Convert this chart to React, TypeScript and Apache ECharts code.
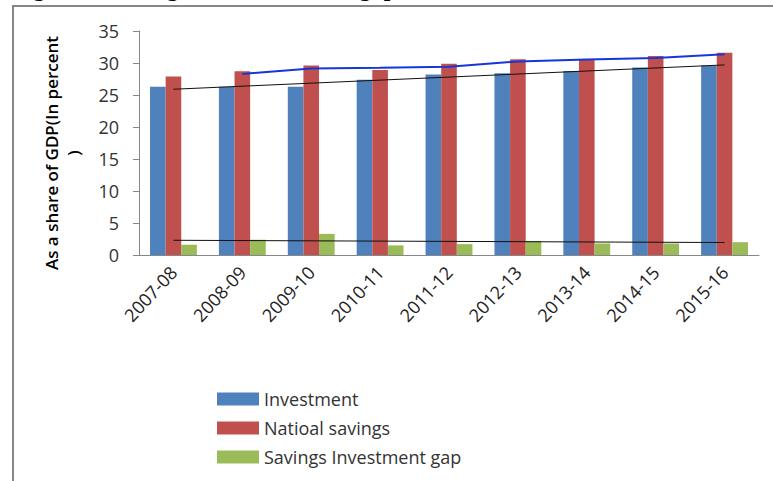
import React, { useEffect, useRef } from "react";
import * as echarts from "echarts";

// Fiscal years on the category axis
const years = [
  "2007-08", "2008-09", "2009-10", "2010-11", "2011-12",
  "2012-13", "2013-14", "2014-15", "2015-16",
];

// Shares of GDP, in percent
const investment = [26.3, 26.3, 26.3, 27.4, 28.2, 28.4, 28.75, 29.3, 29.6];
const nationalSavings = [27.9, 28.7, 29.6, 28.9, 29.9, 30.6, 30.5, 31.1, 31.6];
const savingsInvestmentGap = [1.6, 2.4, 3.3, 1.5, 1.7, 2.2, 1.8, 1.8, 2.0];

// Two-period moving average of national savings
const savingsMovingAvg = [null, 28.3, 29.15, 29.25, 29.4, 30.25, 30.55, 30.8, 31.35];

// Linear trend end points (first and last year)
const investmentTrend = [25.9, null, null, null, null, null, null, null, 29.7];
const gapTrend = [2.3, null, null, null, null, null, null, null, 1.95];

// Value axis ticks
const yMin = 0;
const yMax = 35;
const yStep = 5;

const FONT = "'Open Sans', 'Noto Sans', sans-serif";

export default function App() {
  const ref = useRef<HTMLDivElement>(null);

  useEffect(() => {
    if (!ref.current) return;
    const chart = echarts.init(ref.current, undefined, { renderer: "svg" });

    chart.setOption({
      animation: false,
      backgroundColor: "#ffffff",
      textStyle: { fontFamily: FONT },
      grid: { left: 139, right: 14, top: 31, bottom: 226, containLabel: false },
      legend: {
        data: ["Investment", "Natioal savings", "Savings Investment gap"],
        orient: "vertical",
        left: 217,
        top: 390,
        padding: 0,
        icon: "rect",
        itemWidth: 42,
        itemHeight: 13,
        itemGap: 11,
        textStyle: { fontFamily: FONT, fontSize: 18, color: "#333333" },
      },
      xAxis: {
        type: "category",
        data: years,
        boundaryGap: true,
        axisLine: { lineStyle: { color: "#878787", width: 1 } },
        axisTick: { alignWithLabel: false, length: 5, lineStyle: { color: "#878787" } },
        axisLabel: {
          rotate: 47,
          interval: 0,
          margin: 14,
          fontFamily: FONT,
          fontSize: 18,
          color: "#222222",
        },
      },
      yAxis: {
        type: "value",
        min: yMin,
        max: yMax,
        interval: yStep,
        splitLine: { show: false },
        axisLine: { show: true, lineStyle: { color: "#878787", width: 1 } },
        axisTick: { show: true, length: 6, lineStyle: { color: "#878787" } },
        axisLabel: { margin: 20, fontFamily: FONT, fontSize: 18, color: "#333333" },
      },
      graphic: [
        {
          type: "rect",
          silent: true,
          shape: { x: 13, y: 6, width: 800, height: 520 },
          style: { fill: "none", stroke: "#878787", lineWidth: 2 },
          z: 100,
        },
        {
          type: "text",
          silent: true,
          x: 14,
          y: -0.5,
          style: {
            text: "Figure 1: Savings and Investment gap",
            font: "bold 18px 'DejaVu Serif', serif",
            fill: "#000000",
            textVerticalAlign: "bottom",
          },
        },
        {
          type: "text",
          silent: true,
          x: 62,
          y: 153,
          rotation: Math.PI / 2,
          style: {
            text: "As a share of GDP(In percent\n)",
            font: `600 17px ${FONT}`,
            fill: "#000000",
            textAlign: "center",
            textVerticalAlign: "middle",
            lineHeight: 22,
          },
        },
      ],
      series: [
        {
          name: "Investment",
          type: "bar",
          data: investment,
          barGap: "0%",
          barCategoryGap: "32%",
          itemStyle: { color: "#4f81bd" },
        },
        {
          name: "Natioal savings",
          type: "bar",
          data: nationalSavings,
          itemStyle: { color: "#c0504d" },
        },
        {
          name: "Savings Investment gap",
          type: "bar",
          data: savingsInvestmentGap,
          itemStyle: { color: "#9bbb59" },
        },
        {
          name: "Savings moving average",
          type: "line",
          data: savingsMovingAvg,
          symbol: "none",
          connectNulls: false,
          lineStyle: { color: "#1536d8", width: 2 },
          z: 5,
        },
        {
          name: "Investment trend",
          type: "line",
          data: investmentTrend,
          symbol: "none",
          connectNulls: true,
          lineStyle: { color: "#111111", width: 1 },
          z: 5,
        },
        {
          name: "Gap trend",
          type: "line",
          data: gapTrend,
          symbol: "none",
          connectNulls: true,
          lineStyle: { color: "#111111", width: 1 },
          z: 5,
        },
      ],
    });

    return () => chart.dispose();
  }, []);

  return (
    <div
      ref={ref}
      style={{ position: "fixed", left: 0, top: 0, width: 773, height: 481 }}
    />
  );
}
